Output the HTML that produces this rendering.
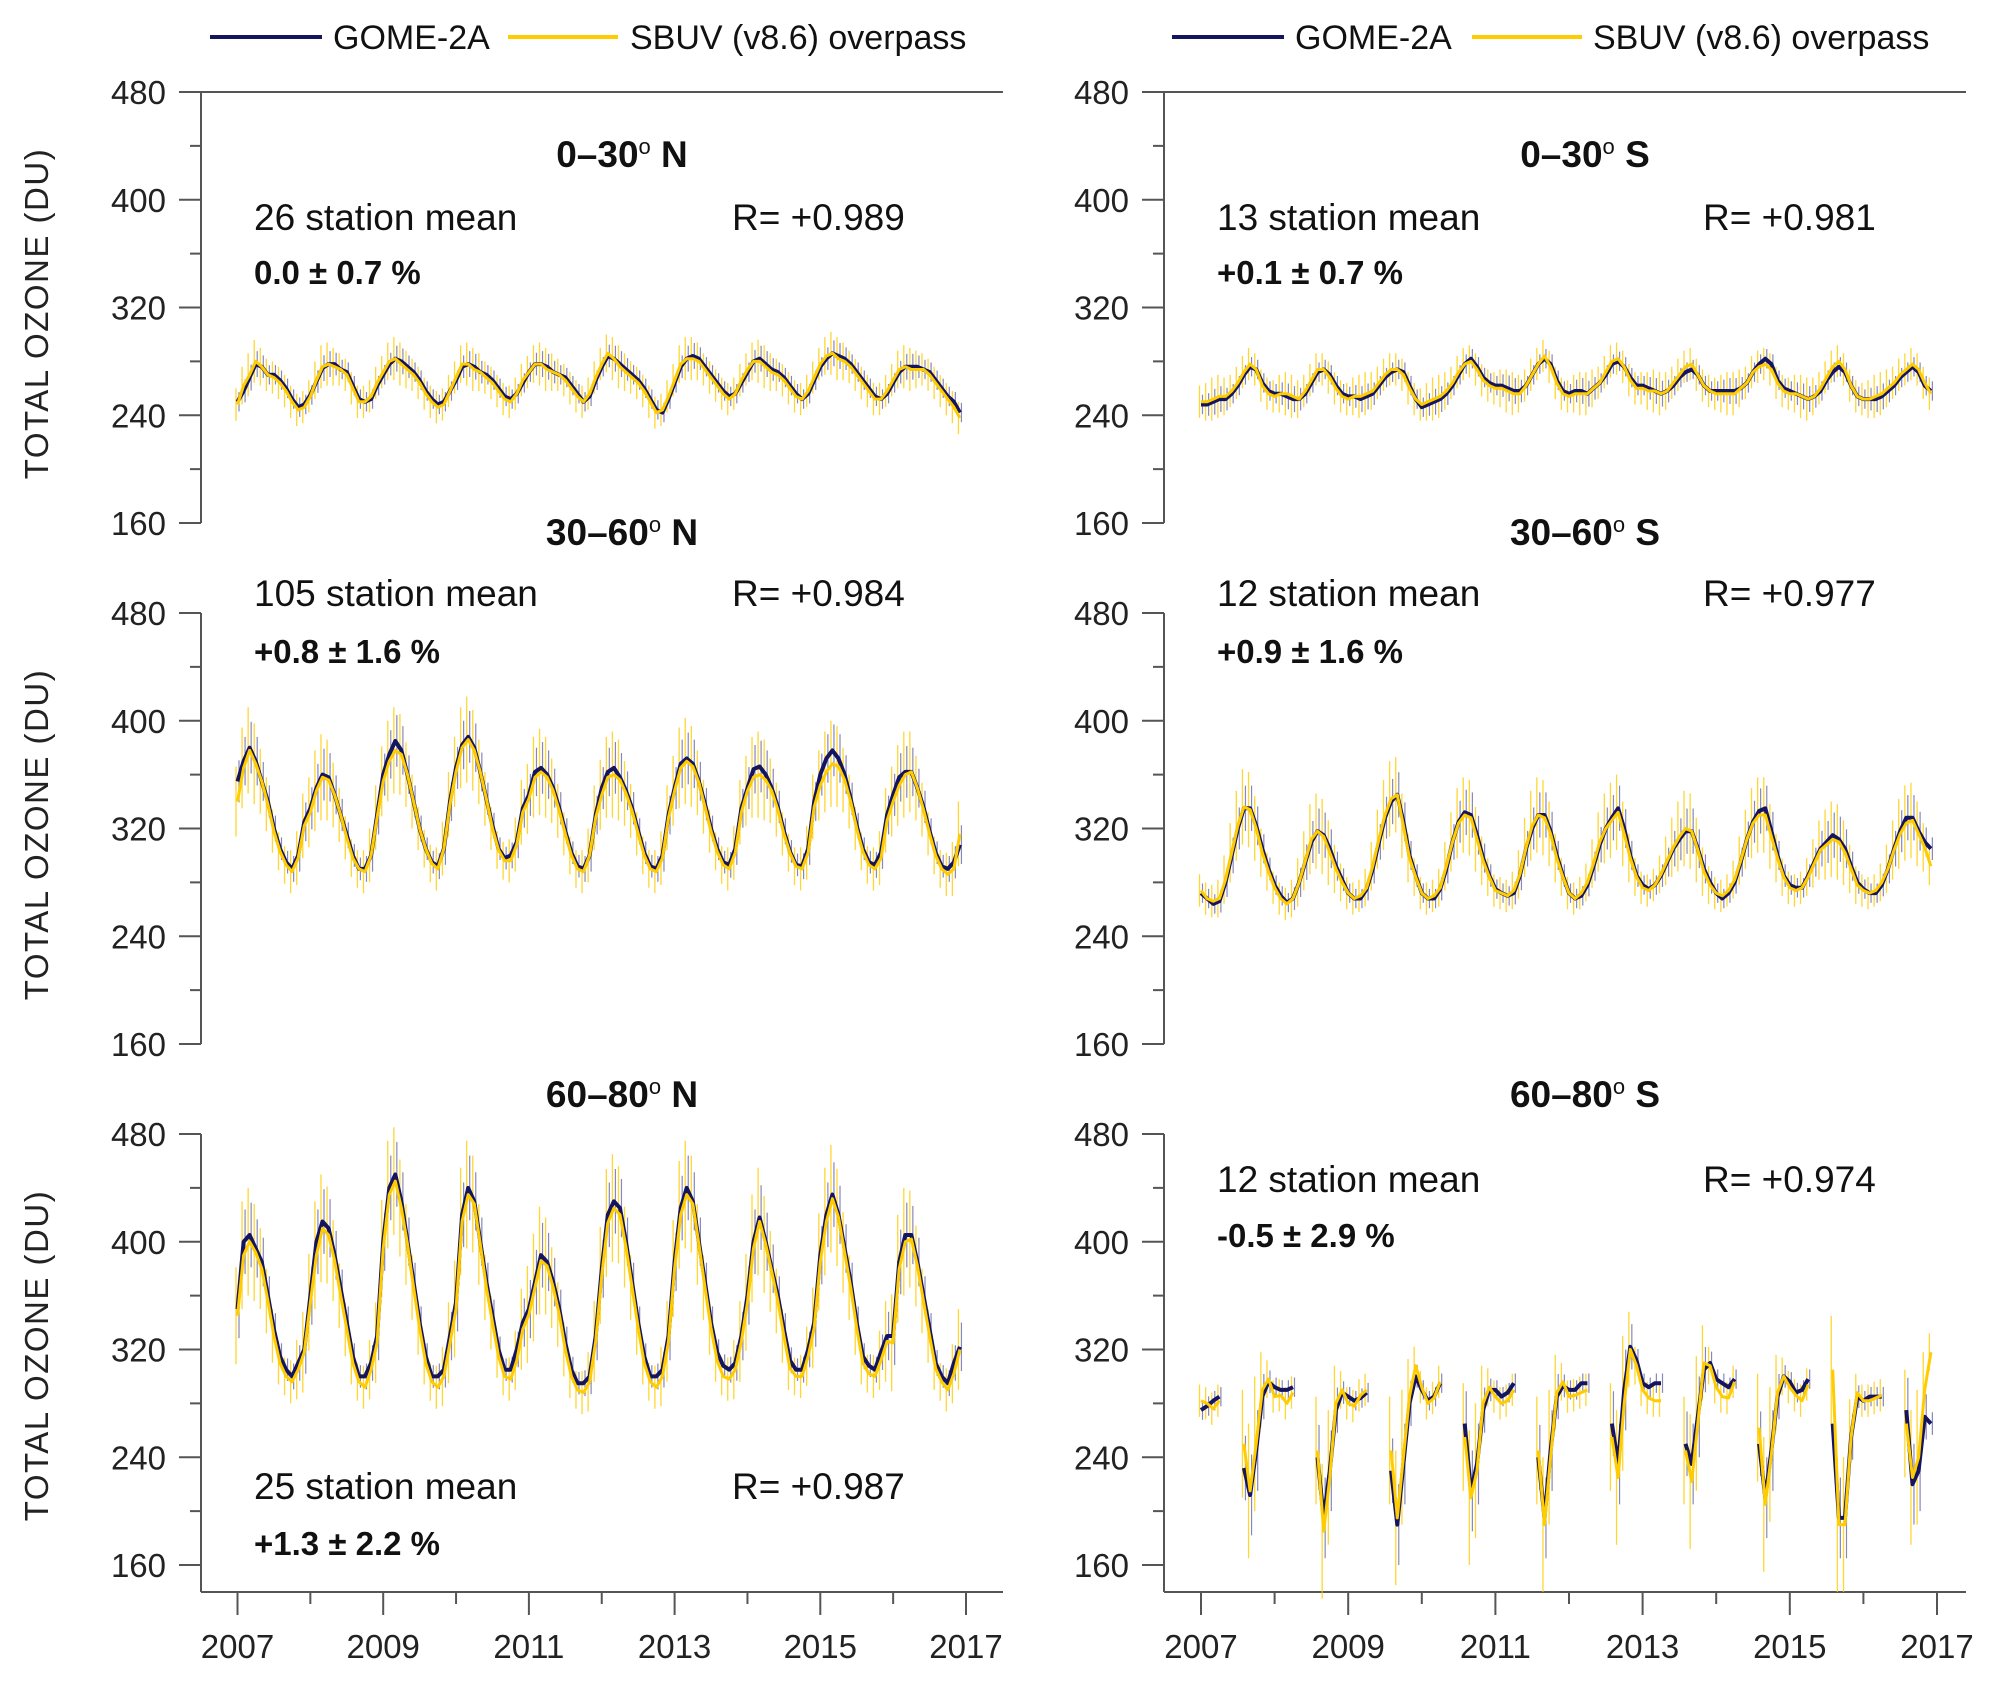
<!DOCTYPE html>
<html><head><meta charset="utf-8"><style>
body{margin:0;background:#fff;}
svg{display:block;font-family:"Liberation Sans",Arial,sans-serif;}
</style></head><body>
<svg id="chart" width="1991" height="1684" viewBox="0 0 1991 1684" xmlns="http://www.w3.org/2000/svg">
<rect width="1991" height="1684" fill="#fff"/>
<g id="legends"></g>
<g id="panels"></g>
</svg>
<script>
const years = [2007,2009,2011,2013,2015,2017];
const yTicks = [160,240,320,400,480];
const n = null;
// Panel 0-30N
const g0N = [250,258,268,278,276,270,270,266,260,252,246,248, 255,265,275,278,278,274,272,262,252,250,252,262, 270,278,282,280,276,272,266,258,252,248,250,258, 266,276,278,276,272,270,266,260,254,252,256,264, 272,278,278,276,272,270,268,262,256,250,254,266, 276,284,282,278,274,270,266,260,252,244,242,252, 264,276,282,284,282,276,270,264,258,254,256,264, 272,280,282,278,274,272,268,262,256,252,256,266, 276,282,286,284,282,278,272,266,260,254,252,256, 264,272,276,276,276,274,272,266,260,254,250,242];
const s0N = [248,262,270,280,276,270,268,264,258,250,244,246, 254,266,276,278,276,274,270,260,250,250,254,264, 272,280,282,278,274,270,264,256,250,246,248,258, 268,278,278,274,272,268,264,258,252,250,256,266, 272,278,278,274,272,270,266,260,254,250,256,268, 278,286,282,276,272,268,264,258,250,242,244,254, 266,278,282,282,280,274,268,262,256,252,256,266, 274,280,280,276,272,270,266,260,254,252,258,268, 278,284,286,282,280,276,270,264,258,252,252,258, 266,274,276,274,274,274,270,264,258,252,246,238];
// Panel 0-30S
const g0S = [248,248,250,252,252,256,262,270,276,274,264,258, 256,256,254,252,252,256,264,272,274,270,262,256, 254,254,252,254,256,262,268,272,274,272,262,252, 246,248,250,252,256,262,270,278,282,276,268,264, 262,262,260,258,258,262,270,278,282,278,266,258, 256,258,258,256,260,264,270,278,280,276,268,262, 262,260,258,256,258,262,268,272,274,270,262,258, 258,258,258,258,260,264,272,278,282,278,266,260, 258,256,254,252,254,258,266,272,276,272,262,254, 252,252,252,254,258,262,268,272,276,272,262,258];
const s0S = [250,250,252,254,254,258,264,272,278,274,262,256, 254,256,256,254,252,258,266,274,274,268,260,254, 252,254,254,256,258,264,270,274,274,270,260,252, 248,250,252,254,258,264,272,278,280,274,266,262, 260,260,258,256,256,262,270,278,284,276,264,256, 254,256,256,256,260,264,272,280,282,276,266,260, 260,258,258,256,258,264,270,276,278,270,262,258, 256,256,256,256,260,264,272,276,278,274,264,258, 256,256,254,252,254,260,268,276,280,274,262,254, 252,252,254,256,260,264,270,274,278,274,264,256];
// Panel 30-60N
const g30N = [355,370,380,370,355,340,320,305,295,290,300,325, 335,350,360,358,345,330,315,300,290,290,300,330, 360,375,385,378,360,340,320,305,295,292,305,340, 365,382,388,380,362,342,322,305,298,300,310,335, 345,362,365,360,350,335,318,302,292,290,300,330, 350,362,365,358,348,335,318,302,292,290,300,330, 350,368,372,368,355,338,320,305,295,293,305,335, 350,364,366,360,350,336,318,303,293,292,305,340, 360,372,378,372,360,342,322,305,295,293,302,330, 345,358,362,362,350,336,318,302,292,290,295,308];
const s30N = [340,365,378,368,355,338,318,303,293,288,298,322, 332,348,358,356,345,330,313,298,290,288,300,328, 355,370,378,375,360,340,320,305,294,290,305,338, 362,380,386,378,362,342,320,304,296,296,308,332, 342,358,362,358,348,333,316,300,290,288,300,328, 345,358,360,356,346,333,316,300,290,288,298,328, 348,365,370,366,354,336,318,303,293,290,302,332, 348,358,360,356,348,334,316,302,292,290,302,336, 352,362,368,366,356,340,320,303,293,290,298,326, 340,352,360,362,350,334,316,300,290,286,290,316];
// Panel 30-60S
const g30S = [272,268,264,266,280,300,320,335,335,322,305,290, 278,270,265,268,280,295,310,318,315,305,292,282, 272,268,268,275,290,310,328,340,345,325,300,285, 272,268,268,275,290,310,325,332,330,315,298,285, 275,272,270,272,285,305,320,330,330,318,300,285, 272,268,270,278,292,308,320,328,335,320,300,285, 278,275,278,285,295,305,312,318,318,305,290,280, 272,268,272,280,295,312,325,333,335,318,300,285, 278,276,276,285,295,305,310,315,312,305,292,280, 275,272,272,278,290,305,318,328,328,318,310,305];
const s30S = [274,268,266,268,282,302,322,336,334,320,302,288, 276,268,264,268,280,296,312,318,314,302,290,280, 272,268,270,276,292,312,330,342,345,322,298,284, 272,268,270,276,292,310,324,330,328,312,296,284, 274,272,270,274,286,306,322,330,328,316,298,284, 272,268,272,280,294,310,320,326,332,316,298,284, 276,274,278,286,296,306,314,320,318,304,288,278, 272,270,274,282,296,312,324,330,330,314,298,284, 276,274,276,284,294,304,308,312,310,302,290,278, 274,272,274,280,290,304,316,324,326,316,306,292];
// Panel 60-80N
const g60N = [350,400,405,395,385,360,335,315,305,300,310,320, 360,400,415,410,390,365,340,315,300,300,310,330, 400,440,450,430,400,370,340,315,300,300,305,330, 355,420,440,430,400,370,345,320,305,305,320,340, 350,370,390,385,370,350,325,305,295,295,300,330, 380,420,430,425,400,370,340,315,300,300,305,330, 385,425,440,430,400,370,340,318,308,305,310,330, 360,400,418,400,380,360,335,312,305,305,320,340, 390,420,435,420,395,370,340,315,308,305,318,330, 330,385,405,405,385,360,335,310,300,295,310,322];
const s60N = [345,390,400,392,380,356,330,310,300,296,305,318, 355,390,410,405,386,360,335,310,296,292,305,325, 395,435,445,425,398,366,336,310,296,292,300,325, 350,415,435,428,398,366,340,315,300,298,312,335, 346,366,386,382,366,346,320,300,290,288,296,326, 375,414,425,420,396,366,336,310,296,292,300,326, 380,420,435,428,398,366,336,312,300,298,305,326, 355,395,415,398,378,356,330,306,300,300,315,336, 385,415,432,418,392,366,336,310,302,300,312,326, 325,380,400,402,382,356,330,306,296,290,302,320];
// Panel 60-80S (polar night gaps)
const g60S = [275,278,282,285,n,n,n,232,212,245,285,296, 292,290,290,292,n,n,n,240,195,230,275,288, 285,282,284,288,n,n,n,230,190,235,280,300, 290,282,285,295,n,n,n,265,215,235,275,290, 290,285,288,295,n,n,n,240,195,245,285,293, 290,290,295,295,n,n,n,265,235,290,322,312, 295,292,295,295,n,n,n,250,235,270,305,310, 298,295,292,298,n,n,n,250,210,245,285,300, 296,288,290,298,n,n,n,265,195,195,255,285, 282,285,285,285,n,n,n,275,220,230,270,265];
const s60S = [282,280,276,282,n,n,n,250,215,250,290,298, 285,286,280,288,n,n,n,245,185,225,280,290, 280,278,286,290,n,n,n,245,195,240,285,308, 292,280,284,296,n,n,n,255,210,230,280,292, 285,280,282,290,n,n,n,245,190,240,288,296, 285,286,288,290,n,n,n,255,225,280,320,308, 290,284,282,282,n,n,n,245,222,265,310,308, 292,285,284,296,n,n,n,262,205,242,288,300, 292,286,282,294,n,n,n,305,190,190,255,288, 282,282,284,286,n,n,n,265,225,240,290,318];
// seasonal error half-widths (DU)
const e0 = [12,14,16,16,14,12,12,12,12,12,12,12];
const e30N = [26,30,32,30,24,20,16,14,14,16,20,24];
const e30S = [12,12,12,14,18,22,26,28,28,24,18,14];
const e60N = [36,40,40,36,30,24,20,16,14,16,22,30];
const e60S = [12,12,12,12,12,12,12,40,50,50,28,14];

const panels = [
 {id:'0-30n', title:'0\u201330', hemi:'N', L:true, yTop:92, g:g0N, s:s0N, e:e0, sta:'26 station mean', R:'R= +0.989', bias:'0.0 \u00b1 0.7 %', ty:167, sy:230, by:284, frameTop:true},
 {id:'0-30s', title:'0\u201330', hemi:'S', L:false, yTop:92, g:g0S, s:s0S, e:e0, sta:'13  station mean', R:'R= +0.981', bias:'+0.1 \u00b1 0.7 %', ty:167, sy:230, by:284, frameTop:true},
 {id:'30-60n', title:'30\u201360', hemi:'N', L:true, yTop:613, g:g30N, s:s30N, e:e30N, sta:'105  station mean', R:'R= +0.984', bias:'+0.8 \u00b1 1.6 %', ty:545, sy:606, by:663},
 {id:'30-60s', title:'30\u201360', hemi:'S', L:false, yTop:613, g:g30S, s:s30S, e:e30S, sta:'12  station mean', R:'R= +0.977', bias:'+0.9 \u00b1 1.6 %', ty:545, sy:606, by:663},
 {id:'60-80n', title:'60\u201380', hemi:'N', L:true, yTop:1134, g:g60N, s:s60N, e:e60N, sta:'25  station mean', R:'R= +0.987', bias:'+1.3 \u00b1 2.2 %', ty:1107, sy:1499, by:1555, bottom:true},
 {id:'60-80s', title:'60\u201380', hemi:'S', L:false, yTop:1134, g:g60S, s:s60S, e:e60S, sta:'12  station mean', R:'R= +0.974', bias:'-0.5 \u00b1 2.9 %', ty:1107, sy:1192, by:1247, bottom:true}
];
const NS='http://www.w3.org/2000/svg';
function mk(tag, attrs, parent){const el=document.createElementNS(NS,tag);for(const k in attrs)el.setAttribute(k,attrs[k]);parent.appendChild(el);return el;}
const AX='#555', NAVY='#14145f', YEL='#ffcc00';

// legends
const lg=document.getElementById('legends');
[[210,333,508,630],[1172,1295,1472,1593]].forEach((p,i)=>{
  const g=mk('g',{},lg);
  
  
  const a=mk('line',{x1:p[0],x2:p[0]+112,y1:37,y2:37,stroke:NAVY,'stroke-width':4},g);
  
  
  const t1=mk('text',{x:p[1],y:49,'font-size':34,fill:'#111'},g);t1.textContent='GOME-2A';
  
  
  const b=mk('line',{x1:p[2],x2:p[2]+110,y1:37,y2:37,stroke:YEL,'stroke-width':4},g);
  
  
  const t2=mk('text',{x:p[3],y:49,'font-size':34,fill:'#111'},g);t2.textContent='SBUV (v8.6) overpass';
  
  
});

const root=document.getElementById('panels');
panels.forEach(P=>{
  const ax = P.L?201:1164, x0 = P.L?237.5:1201, x1 = P.L?966:1937, xe = P.L?1003:1966;
  const yT=P.yTop, yB=P.yTop+431;
  const X = t => x0 + (t-2007)/10*(x1-x0);
  const Y = v => yB - (v-160)/320*(yB-yT);
  const g=mk('g',{},root);
  
  
  const yEnd = P.bottom?1592:yB;
  const yl=mk('line',{x1:ax,x2:ax,y1:yT,y2:yEnd,stroke:AX,'stroke-width':2},g);
  
  
  for(let v=160; v<=480; v+=40){
    const major = yTicks.includes(v);
    mk('line',{x1:ax-(major?22:11),x2:ax,y1:Y(v),y2:Y(v),stroke:AX,'stroke-width':2},g);
  }
  yTicks.forEach(v=>{
    const t=mk('text',{x:ax-35,y:Y(v)+12,'font-size':33,'text-anchor':'end',fill:'#222'},g);
    t.textContent=v;
    
    
  });
  if(P.frameTop){
    const f=mk('line',{x1:ax-22,x2:xe,y1:yT,y2:yT,stroke:AX,'stroke-width':2},g);
    
    
  }
  if(P.L){
    const cy=(yT+yB)/2+6;
    const t=mk('text',{x:48,y:cy,'font-size':33,'text-anchor':'middle',fill:'#222',transform:`rotate(-90 48 ${cy})`,'letter-spacing':'1.5'},g);
    t.textContent='TOTAL OZONE (DU)';
    
    
  }
  if(P.bottom){
    const xl=mk('line',{x1:ax,x2:xe,y1:1592,y2:1592,stroke:AX,'stroke-width':2},g);
    
    
    for(let yr=2007; yr<=2017; yr++){
      const major=(yr%2===1);
      mk('line',{x1:X(yr),x2:X(yr),y1:1592,y2:major?1615:1604,stroke:AX,'stroke-width':2},g);
    }
    years.forEach(yr=>{
      const t=mk('text',{x:X(yr),y:1658,'font-size':33,'text-anchor':'middle',fill:'#222'},g);
      t.textContent=yr;
      
      
    });
  }
  const eg=mk('g',{},g);
  
  
  P.g.forEach((v,i)=>{ if(v===null) return; const t=2007+i/12, e=P.e[i%12]*0.6;
    mk('line',{x1:X(t)+1.5,x2:X(t)+1.5,y1:Y(v-e),y2:Y(v+e),stroke:'#6a6aa8','stroke-width':1.2,opacity:0.8},eg);});
  P.s.forEach((v,i)=>{ if(v===null) return; const t=2007+i/12, e=P.e[i%12];
    mk('line',{x1:X(t)-1.5,x2:X(t)-1.5,y1:Y(v-e),y2:Y(v+e),stroke:YEL,'stroke-width':1.3,opacity:0.8},eg);});
  function path(arr){let d='',pen=false;arr.forEach((v,i)=>{if(v===null){pen=false;return;}const t=2007+i/12;d+=(pen?'L':'M')+X(t).toFixed(1)+' '+Y(v).toFixed(1);pen=true;});return d;}
  const pg=mk('path',{d:path(P.g),fill:'none',stroke:NAVY,'stroke-width':4,'stroke-linejoin':'round'},g);
  
  
  const ps=mk('path',{d:path(P.s),fill:'none',stroke:YEL,'stroke-width':3,'stroke-linejoin':'round'},g);
  
  
  const cx = P.L ? 622 : 1585;
  const tt=mk('text',{x:cx,y:P.ty,'font-size':37,'font-weight':'bold','text-anchor':'middle',fill:'#111'},g);
  tt.innerHTML=P.title+'<tspan font-size="22" font-weight="normal" dy="-13">o</tspan><tspan dy="13"> '+P.hemi+'</tspan>';
  
  
  const tx = P.L?254:1217, rx = P.L?732:1703;
  const st=mk('text',{x:tx,y:P.sy,'font-size':37,fill:'#111'},g);st.textContent=P.sta;
  
  
  const rt=mk('text',{x:rx,y:P.sy,'font-size':37,fill:'#111'},g);rt.textContent=P.R;
  
  
  const bt=mk('text',{x:tx,y:P.by,'font-size':33,'font-weight':'bold',fill:'#111'},g);bt.textContent=P.bias;
  
  
});
</script>
</body></html>
